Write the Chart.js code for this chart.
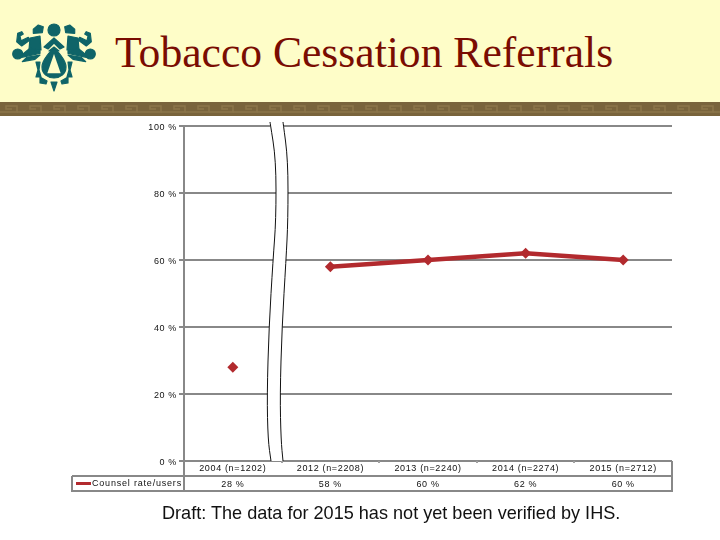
<!DOCTYPE html>
<html>
<head>
<meta charset="utf-8">
<script src="https://cdn.jsdelivr.net/npm/chart.js@4/dist/chart.umd.min.js"></script>
<style>
html, body { margin: 0; padding: 0; background: #fff; }
#page { position: relative; width: 720px; height: 540px; overflow: hidden; }
#header { position: absolute; left: 0; top: 0; width: 720px; height: 102px; background: #fefdc8; }
#band, #logo { position: absolute; }
#band { left: 0; top: 102px; }
#logo { left: 0; top: 0; }
#title { position: absolute; left: 115px; top: 27px; font: 43.6px/50px "Liberation Serif", serif; color: #7a0c02; white-space: nowrap; }
#note { position: absolute; left: 162px; top: 503px; font: 18.1px/21px "Liberation Sans", sans-serif; color: #111; white-space: nowrap; }
canvas { position: absolute; left: 0; top: 0; }
</style>
</head>
<body>
<div id="page">
  <div id="header"></div>
  <svg id="band" width="720" height="14">
    <defs>
      <pattern id="key" width="24" height="14" patternUnits="userSpaceOnUse">
        <rect width="24" height="14" fill="#79643c"/>
        <path d="M0 10H17V4H6V7H12" fill="none" stroke="#8b7549" stroke-width="1.5"/>
        <path d="M17 10H24" fill="none" stroke="#8b7549" stroke-width="1.5"/>
      </pattern>
    </defs>
    <rect width="720" height="14" fill="url(#key)"/>
  </svg>
  <svg id="logo" width="110" height="100" fill="#0f6468" stroke="#0f6468" stroke-width="1.2" stroke-linejoin="round">
    <g id="half">
      <circle cx="17.7" cy="54" r="5"/>
      <path d="M33.3 29.3L38.3 25 43.3 26.7 42.3 32.7 33.3 33.3z"/>
      <path d="M30 38L40 36 41 50 29 50z"/>
      <path d="M30 40L21.7 46 16.7 41.7 17.7 33.3 21.7 31.7 23.3 34 20 36 21 40.7 28.3 37.3z"/>
      <path d="M21.7 55L30 48.3 40 50.7 40 53.3 21.7 57.3z"/>
      <path d="M22.3 61.7L26.7 57.3 40 55 35 59.3z"/>
      <path d="M36 62L40 62 39 70 41 77 36 77 38 70z"/>
      <path d="M40 77L47 81 46 84 40 83z"/>
    </g>
    <use href="#half" transform="translate(108,0) scale(-1,1)"/>
    <circle cx="54" cy="30" r="6"/>
    <path d="M54 38L64 47 60 49 54 43 48 49 44 47z"/>
    <path d="M54 47L59 51 49 51z"/>
    <path d="M54 49C57 50 66 60 66 67 66 74 60 78 54 78 48 78 42 74 42 67 42 60 51 50 54 49z"/>
    <path d="M54 54L60.7 73.3H47.3z" fill="#fefdc8" stroke="none"/>
    <path d="M51 82H57L54 91z"/>
  </svg>
  <div id="title">Tobacco Cessation Referrals</div>
  <canvas id="referralChart" width="720" height="540"></canvas>
  <div id="note">Draft: The data for 2015 has not yet been verified by IHS.</div>
</div>
<script>
const categories = ['2004 (n=1202)', '2012 (n=2208)', '2013 (n=2240)', '2014 (n=2274)', '2015 (n=2712)'];
const counselRate = [28, 58, 60, 62, 60];
const seriesName = 'Counsel rate/users';

const RED = '#b22a2e';
const GRAY = '#888888';
const INK = '#111111';
const SPACING = '0.65px';
const TICK_FONT = { family: '"Liberation Sans", Arial, sans-serif', size: 9 };

// the two wavy lines of the axis break
const breakLeft = [[270, 122], [276, 160], [276, 220], [273, 260], [269, 327], [267, 395], [268, 440], [271, 461]];
const breakRight = [[283, 122], [288, 160], [288, 220], [286, 260], [282, 327], [280, 395], [281, 440], [283, 461]];

function tracePath(ctx, pts) {
    ctx.lineTo(pts[0][0], pts[0][1]);
    for (let i = 1; i < pts.length; i++) {
        const mx = (pts[i - 1][0] + pts[i][0]) / 2;
        const my = (pts[i - 1][1] + pts[i][1]) / 2;
        ctx.quadraticCurveTo(pts[i - 1][0], pts[i - 1][1], mx, my);
    }
    const last = pts[pts.length - 1];
    ctx.lineTo(last[0], last[1]);
}

const tablePlugin = {
    id: 'tablePlugin',
    beforeInit(chart) {
        chart.ctx.letterSpacing = SPACING;
    },
    beforeDraw(chart) {
        chart.ctx.letterSpacing = SPACING;
    },
    afterDraw(chart) {
        const ctx = chart.ctx;
        const { left, right, bottom, top } = chart.chartArea;
        const rowY = bottom + 15;
        const endY = bottom + 30;
        const labelX = 72;

        ctx.save();
        // frame of the data table
        ctx.strokeStyle = GRAY;
        ctx.lineWidth = 2;
        ctx.beginPath();
        ctx.moveTo(labelX, rowY); ctx.lineTo(right, rowY);
        ctx.moveTo(labelX - 1, endY); ctx.lineTo(right + 1, endY);
        ctx.moveTo(labelX, rowY); ctx.lineTo(labelX, endY);
        ctx.moveTo(right, bottom); ctx.lineTo(right, endY);
        ctx.moveTo(left, top); ctx.lineTo(left, endY);
        ctx.stroke();

        // legend key sits in the first table cell
        ctx.strokeStyle = RED;
        ctx.lineWidth = 3;
        ctx.beginPath();
        ctx.moveTo(76, rowY + 7.5); ctx.lineTo(91, rowY + 7.5);
        ctx.stroke();
        ctx.fillStyle = INK;
        ctx.font = '9px "Liberation Sans", Arial, sans-serif';
        ctx.textBaseline = 'middle';
        ctx.textAlign = 'left';
        ctx.letterSpacing = '0.8px';
        ctx.fillText(seriesName, 92, rowY + 8);

        // axis break
        ctx.beginPath();
        ctx.moveTo(breakLeft[0][0], breakLeft[0][1]);
        tracePath(ctx, breakLeft);
        ctx.lineTo(breakRight[breakRight.length - 1][0], breakRight[breakRight.length - 1][1]);
        tracePath(ctx, breakRight.slice().reverse());
        ctx.closePath();
        ctx.fillStyle = '#fff';
        ctx.fill();
        ctx.strokeStyle = '#111';
        ctx.lineWidth = 1;
        [breakLeft, breakRight].forEach(function (pts) {
            ctx.beginPath();
            ctx.moveTo(pts[0][0], pts[0][1]);
            tracePath(ctx, pts);
            ctx.stroke();
        });
        ctx.restore();
    }
};

const ctx = document.getElementById('referralChart').getContext('2d');

new Chart(ctx, {
    type: 'line',
    data: {
        labels: categories,
        datasets: [{
            label: seriesName,
            data: counselRate,
            borderColor: RED,
            backgroundColor: RED,
            borderWidth: 4.5,
            pointStyle: 'rectRot',
            pointRadius: 5.5,
            pointBackgroundColor: RED,
            pointBorderColor: RED,
            pointBorderWidth: 0,
            tension: 0,
            // no line across the axis break
            segment: {
                borderColor: function (c) { return c.p0DataIndex === 0 ? 'transparent' : RED; }
            }
        }]
    },
    options: {
        responsive: false,
        animation: false,
        devicePixelRatio: 1,
        layout: { padding: { left: 100, right: 48, top: 126, bottom: 49 } },
        scales: {
            y: {
                min: 0,
                max: 100,
                afterFit: function (scale) { scale.width = 84; },
                border: { display: false },
                grid: { color: GRAY, lineWidth: 2, tickLength: 5, tickColor: GRAY },
                ticks: {
                    stepSize: 20,
                    color: INK,
                    // blank first line nudges the label just under its gridline, as in the picture
                    font: Object.assign({ lineHeight: '3px' }, TICK_FONT),
                    padding: 2,
                    callback: function (v) { return ['', v + ' %']; }
                }
            },
            x: {
                offset: true,
                afterFit: function (scale) { scale.height = 30; },
                border: { display: false },
                grid: { offset: true, drawOnChartArea: false, tickLength: 2, tickColor: '#a0a0a0', lineWidth: 2 },
                ticks: {
                    color: INK,
                    maxRotation: 0,
                    autoSkip: false,
                    padding: -2,
                    font: Object.assign({ lineHeight: '15.5px' }, TICK_FONT),
                    callback: function (v, i) { return [categories[i], counselRate[i] + ' %']; }
                }
            }
        },
        plugins: {
            legend: { display: false },
            title: { display: false },
            tooltip: { enabled: false }
        }
    },
    plugins: [tablePlugin]
});
</script>
</body>
</html>
